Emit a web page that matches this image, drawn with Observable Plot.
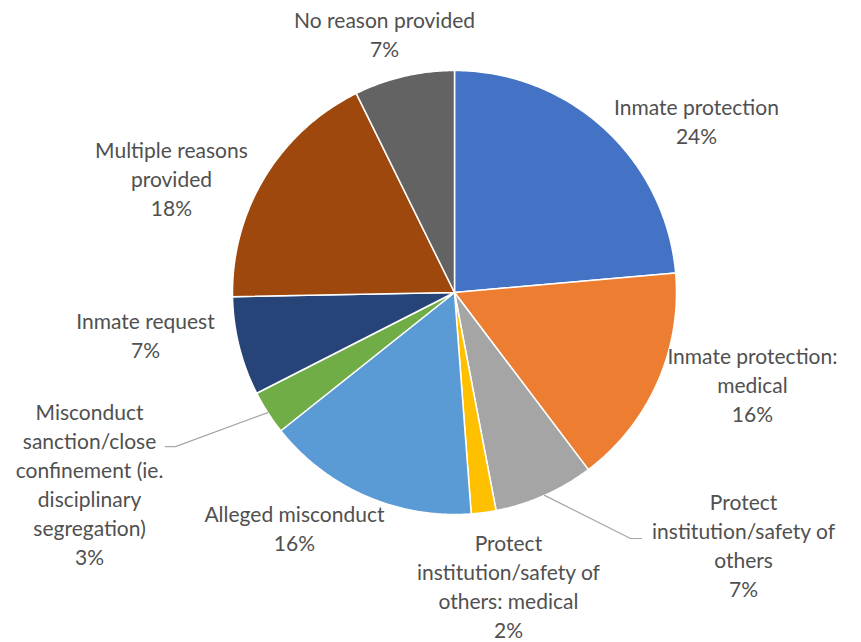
<!DOCTYPE html>
<html>
<head>
<meta charset="utf-8">
<script src="https://cdn.jsdelivr.net/npm/d3@7"></script>
<script src="https://cdn.jsdelivr.net/npm/@observablehq/plot@0.6"></script>
<style>
  html, body { margin: 0; padding: 0; background: #fff; }
  #chart svg { display: block; }
</style>
</head>
<body>
<div id="chart"></div>
<script>
// ---- data ----
const categories = [
  "Inmate protection",
  "Inmate protection: medical",
  "Protect institution/safety of others",
  "Protect institution/safety of others: medical",
  "Alleged misconduct",
  "Misconduct sanction/close confinement (ie. disciplinary segregation)",
  "Inmate request",
  "Multiple reasons provided",
  "No reason provided"
];
const values = [23.6, 16.1, 7.3, 1.8, 15.5, 3.2, 7.2, 18.0, 7.3];
const percentLabels = ["24%", "16%", "7%", "2%", "16%", "3%", "7%", "18%", "7%"];
const labelLines = [
  "Inmate protection",
  "Inmate protection:\nmedical",
  "Protect\ninstitution/safety of\nothers",
  "Protect\ninstitution/safety of\nothers: medical",
  "Alleged misconduct",
  "Misconduct\nsanction/close\nconfinement (ie.\ndisciplinary\nsegregation)",
  "Inmate request",
  "Multiple reasons\nprovided",
  "No reason provided"
];

// ---- styles / layout (kept apart from the data) ----
const colors = ["#4472C4", "#ED7D31", "#A5A5A5", "#FFC000", "#5B9BD5", "#70AD47", "#264478", "#9E480E", "#636363"];
// label centres in pie-radius units (x right, y up)
const labelPos = [
  [1.090, 0.775], [1.342, -0.410], [1.302, -1.133], [0.243, -1.320], [-0.721, -1.059],
  [-1.644, -0.860], [-1.392, -0.189], [-1.275, 0.518], [-0.315, 1.167]
];
// leader lines: label-side points in radius units, ending at the slice's mid-angle on the rim
const leaders = [
  {slice: 5, pts: [[-1.302, -0.694], [-1.257, -0.694]]},
  {slice: 2, pts: [[0.842, -1.108], [0.793, -1.108]]}
];

// ---- geometry ----
const arcs = d3.pie().sort(null).value(d => d.value)(
  categories.map((name, i) => ({name, value: values[i]}))
);
const slicePts = [];
arcs.forEach((a, i) => {
  const name = a.data.name;
  slicePts.push({name, x: 0, y: 0});
  const n = Math.max(2, Math.ceil((a.endAngle - a.startAngle) / (Math.PI / 360)));
  for (let k = 0; k <= n; k++) {
    const t = a.startAngle + (a.endAngle - a.startAngle) * k / n;
    slicePts.push({name, x: Math.sin(t), y: Math.cos(t)});
  }
});
const labels = categories.map((name, i) => ({
  text: labelLines[i] + "\n" + percentLabels[i],
  x: labelPos[i][0], y: labelPos[i][1]
}));
const leaderPts = [];
leaders.forEach((l, j) => {
  l.pts.forEach(p => leaderPts.push({id: j, x: p[0], y: p[1]}));
  const a = arcs[l.slice];
  const m = (a.startAngle + a.endAngle) / 2;
  leaderPts.push({id: j, x: Math.sin(m), y: Math.cos(m)});
});

const chart = Plot.plot({
  width: 861,
  height: 642,
  marginLeft: 232,
  marginRight: 185,
  marginTop: 70,
  marginBottom: 128,
  x: {domain: [-1, 1], axis: null},
  y: {domain: [-1, 1], axis: null},
  color: {domain: categories, range: colors},
  style: {fontFamily: "Lato, 'Open Sans', sans-serif", overflow: "visible"},
  marks: [
    Plot.line(slicePts, {x: "x", y: "y", z: "name", fill: "name", stroke: "#ffffff", strokeWidth: 1.5, curve: "linear-closed"}),
    Plot.line(leaderPts, {x: "x", y: "y", z: "id", stroke: "#A6A6A6", strokeWidth: 1.2}),
    Plot.text(labels, {x: "x", y: "y", text: "text", fontSize: 21, fill: "#505050", lineHeight: 1.38, textAnchor: "middle"})
  ]
});
document.getElementById("chart").appendChild(chart);
</script>
</body>
</html>
